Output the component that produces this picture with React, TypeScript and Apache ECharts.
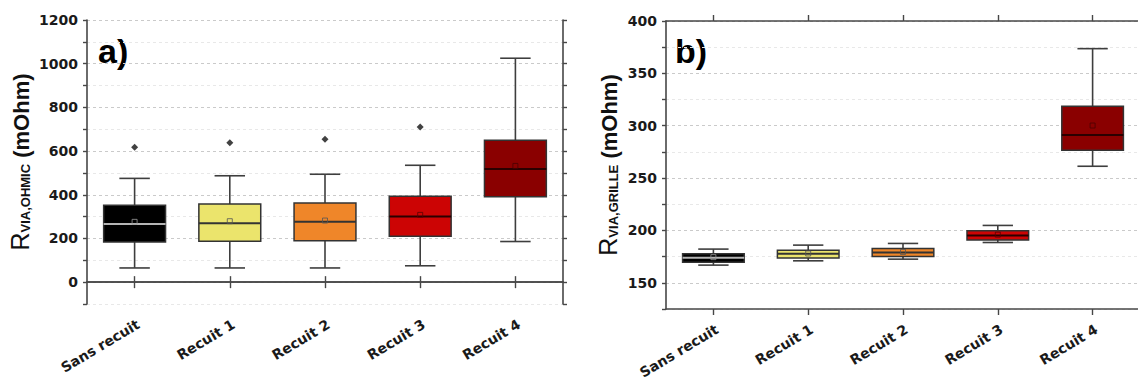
import React, { useEffect, useRef } from "react";
import * as echarts from "echarts";

// ---------- data ----------
const categories = ["Sans recuit", "Recuit 1", "Recuit 2", "Recuit 3", "Recuit 4"];
const boxColors = ["#000000", "#ebe46c", "#ef8629", "#cc0404", "#8a0000"];
const medianColors = ["#b4b4b4", "#333333", "#333333", "#2a0000", "#2a0000"];
const meanBorders = ["#9a9a9a", "#555555", "#555555", "#5a0000", "#4a0000"];

// [category index, min, Q1, median, Q3, max]
const ohmicBoxes = [
  [0, 65, 184, 266, 352, 475],
  [1, 65, 187, 270, 358, 487],
  [2, 65, 190, 276, 362, 494],
  [3, 75, 210, 300, 393, 535],
  [4, 186, 391, 518, 650, 1025],
];
const ohmicMeans = [276, 279, 282, 308, 532];
const ohmicOutliers = [
  [0, 618],
  [1, 638],
  [2, 654],
  [3, 710],
];

const grilleBoxes = [
  [0, 166.9, 169.7, 173.9, 177.7, 182.2],
  [1, 171.0, 173.6, 177.7, 181.2, 186.0],
  [2, 172.6, 175.2, 179.0, 182.8, 187.6],
  [3, 188.5, 191.0, 195.2, 199.6, 204.8],
  [4, 261.3, 276.6, 291.2, 318.6, 373.6],
];
const grilleMeans = [174.5, 178.0, 179.5, 196.0, 300.2];

const ohmicTicks = { min: -100, max: 1200, step: 100, labelStep: 200 };
const grilleTicks = { min: 125, max: 400, step: 25, labelStep: 50 };

// ---------- styles ----------
const AXIS_COLOR = "#474747";
const LABEL_FONT = "DejaVu Sans";
const TITLE_FONT = "Liberation Sans";

function renderBox(params: any, api: any) {
  const i = api.value(0);
  const pLo = api.coord([i, api.value(1)]);
  const pQ1 = api.coord([i, api.value(2)]);
  const pMed = api.coord([i, api.value(3)]);
  const pQ3 = api.coord([i, api.value(4)]);
  const pHi = api.coord([i, api.value(5)]);
  const band = api.size([1, 0])[0];
  const cx = pLo[0];
  const bw = band * 0.65;
  const cw = band * 0.32;
  const whisk = { stroke: "#3e3e3e", lineWidth: 1.6 };
  return {
    type: "group",
    children: [
      { type: "line", shape: { x1: cx, y1: pQ3[1], x2: cx, y2: pHi[1] }, style: whisk },
      { type: "line", shape: { x1: cx, y1: pQ1[1], x2: cx, y2: pLo[1] }, style: whisk },
      { type: "line", shape: { x1: cx - cw / 2, y1: pHi[1], x2: cx + cw / 2, y2: pHi[1] }, style: whisk },
      { type: "line", shape: { x1: cx - cw / 2, y1: pLo[1], x2: cx + cw / 2, y2: pLo[1] }, style: whisk },
      {
        type: "rect",
        shape: { x: cx - bw / 2, y: pQ3[1], width: bw, height: pQ1[1] - pQ3[1] },
        style: { fill: boxColors[i], stroke: "#333333", lineWidth: 1.5 },
      },
      {
        type: "line",
        shape: { x1: cx - bw / 2, y1: pMed[1], x2: cx + bw / 2, y2: pMed[1] },
        style: { stroke: medianColors[i], lineWidth: 2 },
      },
    ],
  };
}

function valueAxis(gridIndex: number, t: any, left: boolean, name?: string, nameGap?: number) {
  return {
    type: "value",
    gridIndex,
    position: left ? "left" : "right",
    min: t.min,
    max: t.max,
    interval: t.step,
    name: name,
    nameLocation: "middle",
    nameGap: nameGap,
    nameRotate: 90,
    nameMoveOverlap: false,
    nameTextStyle: {
      rich: {
        r: { fontFamily: TITLE_FONT, fontSize: 25, fontWeight: "normal", color: "#111", verticalAlign: "bottom" },
        s: { fontFamily: TITLE_FONT, fontSize: 13, fontWeight: "bold", color: "#111", verticalAlign: "bottom" },
        u: { fontFamily: TITLE_FONT, fontSize: 22, fontWeight: "bold", color: "#111", verticalAlign: "bottom" },
      },
    },
    axisLine: { show: true, lineStyle: { color: AXIS_COLOR, width: 1.6 } },
    axisTick: { show: true, inside: false, length: 4, lineStyle: { color: AXIS_COLOR, width: 1.4 } },
    axisLabel: {
      show: left,
      margin: 9,
      fontFamily: LABEL_FONT,
      fontWeight: "bold",
      fontSize: 14,
      color: "#1a1a1a",
      formatter: (v: number) =>
        v >= 0 && Math.abs(v % t.labelStep) < 1e-9 ? String(v) : "",
    },
    splitLine: {
      show: left,
      lineStyle: {
        type: [3, 3],
        width: 1,
        color: ["#e8e8e8", "#cacaca"],
      },
    },
    minorTick: { show: false },
    minorSplitLine: { show: false },
  };
}

function catAxis(gridIndex: number, top: boolean) {
  return {
    type: "category",
    gridIndex,
    position: top ? "top" : "bottom",
    data: categories,
    boundaryGap: true,
    axisLine: { show: true, lineStyle: { color: AXIS_COLOR, width: 1.6 } },
    axisTick: { show: true, alignWithLabel: true, length: 6, lineStyle: { color: AXIS_COLOR, width: 1.4 } },
    axisLabel: {
      show: !top,
      interval: 0,
      rotate: 31,
      margin: 13,
      align: "right",
      verticalAlign: "top",
      fontFamily: LABEL_FONT,
      fontWeight: "bold",
      fontSize: 14,
      color: "#1a1a1a",
    },
    splitLine: { show: false },
  };
}

export default function App() {
  const ref = useRef<HTMLDivElement>(null);

  useEffect(() => {
    if (!ref.current) return;
    const chart = echarts.init(ref.current, undefined, { renderer: "svg" });
    const option: any = {
      animation: false,
      backgroundColor: "#ffffff",
      grid: [
        { left: 87, top: 20, width: 476, height: 284, outerBoundsMode: "none", containLabel: false },
        { left: 666, top: 21, width: 474, height: 288, outerBoundsMode: "none", containLabel: false },
      ],
      xAxis: [catAxis(0, false), catAxis(0, true), catAxis(1, false), catAxis(1, true)],
      yAxis: [
        valueAxis(0, ohmicTicks, true, "{r|R}{s|VIA,OHMIC}{u| (mOhm)}", 55),
        valueAxis(0, ohmicTicks, false),
        valueAxis(1, grilleTicks, true, "{r|R}{s|VIA,GRILLE}{u| (mOhm)}", 46),
        valueAxis(1, grilleTicks, false),
      ],
      series: [
        {
          type: "custom",
          xAxisIndex: 0,
          yAxisIndex: 0,
          renderItem: renderBox,
          encode: { x: 0, y: [1, 2, 3, 4, 5] },
          data: ohmicBoxes,
          z: 2,
        },
        {
          type: "scatter",
          xAxisIndex: 0,
          yAxisIndex: 0,
          symbol: "rect",
          symbolSize: 5,
          z: 3,
          data: ohmicMeans.map((m, i) => ({
            value: [i, m],
            itemStyle: { color: "rgba(0,0,0,0)", borderColor: meanBorders[i], borderWidth: 1 },
          })),
        },
        {
          type: "scatter",
          xAxisIndex: 0,
          yAxisIndex: 0,
          symbol: "diamond",
          symbolSize: 7,
          z: 3,
          itemStyle: { color: "#111111" },
          data: ohmicOutliers,
        },
        {
          type: "custom",
          xAxisIndex: 2,
          yAxisIndex: 2,
          renderItem: renderBox,
          encode: { x: 0, y: [1, 2, 3, 4, 5] },
          data: grilleBoxes,
          z: 2,
        },
        {
          type: "scatter",
          xAxisIndex: 2,
          yAxisIndex: 2,
          symbol: "rect",
          symbolSize: 5,
          z: 3,
          data: grilleMeans.map((m, i) => ({
            value: [i, m],
            itemStyle: { color: "rgba(0,0,0,0)", borderColor: meanBorders[i], borderWidth: 1 },
          })),
        },
      ],
      graphic: [
        {
          type: "text",
          left: 98,
          top: 34,
          style: { text: "a)", fontFamily: TITLE_FONT, fontWeight: "bold", fontSize: 34, fill: "#000" },
        },
        {
          type: "text",
          left: 675,
          top: 34,
          style: { text: "b)", fontFamily: TITLE_FONT, fontWeight: "bold", fontSize: 34, fill: "#000" },
        },
      ],
    };
    chart.setOption(option);
    return () => chart.dispose();
  }, []);

  return (
    <div
      ref={ref}
      style={{ position: "absolute", left: 0, top: 0, width: 1138, height: 383, background: "#fff" }}
    />
  );
}
